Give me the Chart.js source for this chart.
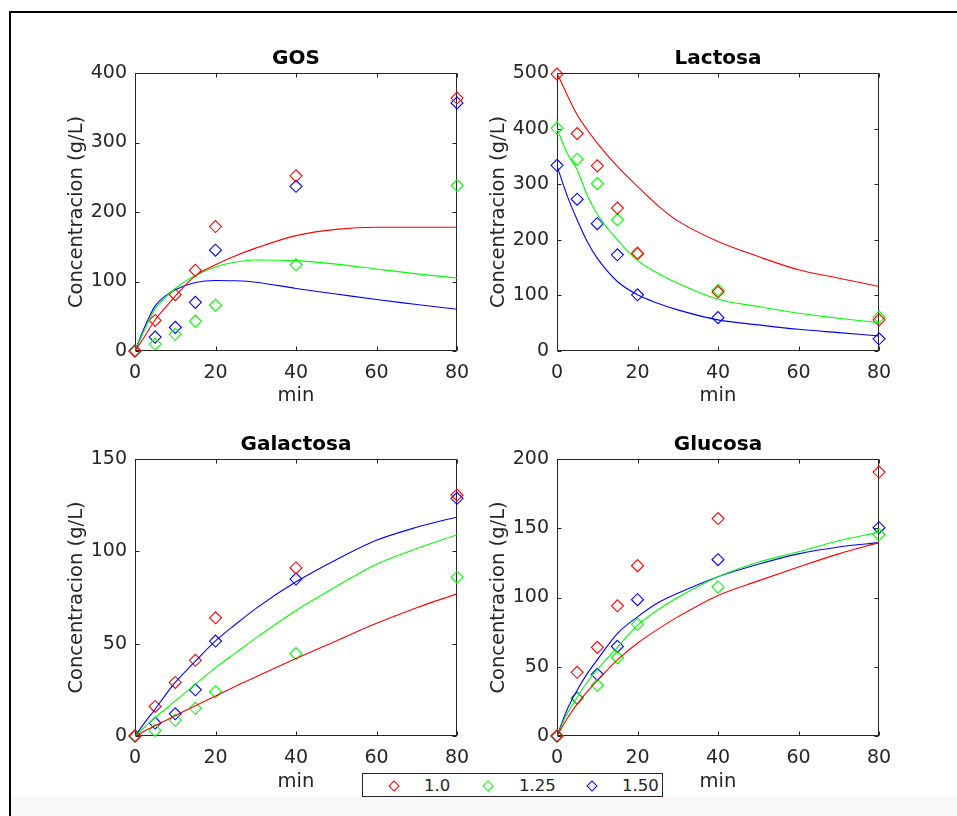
<!DOCTYPE html>
<html>
<head>
<meta charset="utf-8">
<script src="https://cdn.jsdelivr.net/npm/chart.js@4.4.1/dist/chart.umd.min.js"></script>
<style>
  html, body { margin: 0; padding: 0; background: #fff; }
  body { width: 957px; height: 816px; position: relative; overflow: hidden; font-family: "DejaVu Sans", sans-serif; }
  .frame { position: absolute; left: 9px; top: 11px; width: 980px; height: 840px; border-left: 2px solid #000; border-top: 2px solid #000; }
  .foot { position: absolute; left: 11px; top: 797px; right: 0; bottom: 0; background: #f8f8f8; }
  canvas { position: absolute; }
  #legend { position: absolute; left: 362px; top: 773px; width: 299px; height: 22px; border: 1px solid #262626; background: #fff; font-size: 16.5px; color: #262626; }
  #legend .mk { position: absolute; top: 8px; width: 6px; height: 6px; border: 1px solid; transform: rotate(45deg); }
  #legend .lb { position: absolute; top: 2px; }
</style>
</head>
<body>
<div class="frame"></div>
<div class="foot"></div>
<canvas id="gos" width="440" height="385" style="left:40px;top:30px"></canvas>
<canvas id="lac" width="440" height="385" style="left:462px;top:30px"></canvas>
<canvas id="gal" width="440" height="385" style="left:40px;top:416px"></canvas>
<canvas id="glu" width="440" height="385" style="left:462px;top:416px"></canvas>
<div id="legend">
  <span class="mk" style="left:27px;border-color:#ff0000"></span><span class="lb" style="left:61px">1.0</span>
  <span class="mk" style="left:121px;border-color:#00ff00"></span><span class="lb" style="left:156px">1.25</span>
  <span class="mk" style="left:225px;border-color:#0000ff"></span><span class="lb" style="left:259px">1.50</span>
</div>
<script>
// Series / categories
const seriesNames = ['1.0', '1.25', '1.50'];
const seriesColors = ['#ff0000', '#00ff00', '#0000ff'];

// sampling times (min)
const tMeas = [0, 5, 10, 15, 20, 40, 80];
const tFit = [0, 2.5, 5, 7.5, 10, 15, 20, 25, 30, 40, 50, 60, 70, 80];
const xTicks = [0, 20, 40, 60, 80];

// GOS
const gosMeas10 = [0, 44, 81, 116, 179, 252, 364];
const gosMeas125 = [0, 10, 24, 43, 66, 124, 238];
const gosMeas150 = [0, 20, 34, 70, 145, 237, 357];
const gosFit10 = [0, 22, 45, 62, 79, 108, 124, 137, 148, 166, 175, 178, 178, 178];
const gosFit125 = [0, 32, 61, 77, 90, 109, 121, 128, 131, 130, 125, 118, 111, 105];
const gosFit150 = [0, 36, 65, 79, 88, 98.5, 101.5, 101, 99, 90, 82, 74, 67, 60];

// Lactosa
const lacMeas10 = [498, 391, 333, 257, 176, 106, 56];
const lacMeas125 = [401, 345, 301, 236, 174, 109, 61];
const lacMeas150 = [334, 273, 229, 173, 101, 60, 22];
const lacFit10 = [500, 461, 425, 398, 374, 332, 296, 262, 234, 197, 170, 146, 131, 116];
const lacFit125 = [400, 356, 326, 280, 246, 200, 163, 140, 122, 93, 80, 68, 59, 51];
const lacFit150 = [333, 280, 236, 197, 167, 125, 101, 86, 74, 56, 47, 39, 33, 27];

// Galactosa
const galMeas10 = [0, 16, 29, 41, 64, 91, 130.5];
const galMeas125 = [0, 3, 8.5, 15, 24, 44.6, 86];
const galMeas150 = [0, 7, 12, 25, 51.4, 85, 128.7];
const galFit10 = [0, 2.8, 5.6, 8.3, 11, 16.4, 21.7, 27, 32, 42, 51.5, 61, 69.5, 77];
const galFit125 = [0, 5, 10, 14.5, 19, 28, 37, 45, 53, 68, 81, 93, 101.5, 109];
const galFit150 = [0, 7.5, 14.5, 22, 29, 40.5, 51.5, 60.5, 69, 83.5, 95.5, 106, 113, 118.6];

// Glucosa
const gluMeas10 = [0, 46, 64, 94, 123, 157, 190.6];
const gluMeas125 = [0, 27, 36.6, 56.6, 80.6, 107.6, 145.4];
const gluMeas150 = [0, 27.4, 44.5, 64.7, 98.4, 127.3, 150.4];
const gluFit10 = [0, 12.5, 23, 32, 40, 55, 67, 77, 86, 101.5, 112, 122, 131.5, 139.6];
const gluFit125 = [0, 16, 28, 39, 48, 64, 80, 91, 100, 115, 125.5, 133, 141, 147];
const gluFit150 = [0, 19, 33, 45, 55, 74, 86, 96, 103, 115, 124, 131.5, 136.5, 139.6];

function pts(xs, ys) {
    return xs.map((x, i) => ({ x: x, y: ys[i] }));
}

// box with inward tick marks, like the original axes
const axesBox = {
    id: 'axesBox',
    beforeDatasetsDraw(chart) {
        const { ctx, chartArea: a, scales } = chart;
        const L = Math.round(a.left) + 0.5, R = Math.round(a.right) - 0.5;
        const T = Math.round(a.top) + 0.5, B = Math.round(a.bottom) - 0.5;
        ctx.save();
        ctx.strokeStyle = '#262626';
        ctx.lineWidth = 1;
        ctx.strokeRect(L, T, R - L, B - T);
        ctx.beginPath();
        scales.x.ticks.forEach(t => {
            const px = Math.round(scales.x.getPixelForValue(t.value)) + 0.5;
            ctx.moveTo(px, B); ctx.lineTo(px, B - 4);
            ctx.moveTo(px, T); ctx.lineTo(px, T + 4);
        });
        scales.y.ticks.forEach(t => {
            const py = Math.round(scales.y.getPixelForValue(t.value)) + 0.5;
            ctx.moveTo(L, py); ctx.lineTo(L + 4, py);
            ctx.moveTo(R, py); ctx.lineTo(R - 4, py);
        });
        ctx.stroke();
        ctx.restore();
    }
};

function makePanel(id, title, yMax, yStep, meas, fits, xAxisH) {
    const datasets = [];
    fits.forEach((f, i) => {
        datasets.push({
            label: seriesNames[i] + ' fit',
            data: pts(tFit, f),
            showLine: true,
            borderColor: seriesColors[i],
            borderWidth: 1.1,
            pointRadius: 0,
            cubicInterpolationMode: 'monotone',
            fill: false
        });
    });
    meas.forEach((m, i) => {
        datasets.push({
            label: seriesNames[i],
            data: pts(tMeas, m),
            showLine: false,
            pointStyle: 'rectRot',
            pointRadius: 6,
            pointBorderWidth: 1.1,
            pointBorderColor: seriesColors[i],
            pointBackgroundColor: 'rgba(0,0,0,0)',
            clip: false
        });
    });

    const tickFont = { family: 'DejaVu Sans', size: 19 };
    const labelFont = { family: 'DejaVu Sans', size: 19.5 };
    new Chart(document.getElementById(id), {
        type: 'scatter',
        data: { datasets: datasets },
        options: {
            responsive: false,
            animation: false,
            devicePixelRatio: 1,
            layout: { padding: { top: 0, right: 23, left: 0, bottom: 0 } },
            plugins: {
                legend: { display: false },
                tooltip: { enabled: false },
                title: {
                    display: true,
                    fullSize: false,
                    text: title,
                    color: '#000',
                    font: { family: 'DejaVu Sans', size: 20, weight: 'bold' },
                    padding: { top: 17, bottom: 2 }
                }
            },
            scales: {
                x: {
                    type: 'linear',
                    min: 0, max: 80,
                    afterBuildTicks: s => { s.ticks = xTicks.map(v => ({ value: v })); },
                    ticks: { color: '#262626', font: tickFont, padding: 3 },
                    grid: { display: false },
                    border: { display: false },
                    title: { display: true, text: 'min', color: '#262626', font: labelFont, padding: { bottom: 7 } },
                    afterFit: s => { s.height = xAxisH; }
                },
                y: {
                    min: 0, max: yMax,
                    ticks: { stepSize: yStep, color: '#262626', font: tickFont, padding: 0 },
                    grid: { display: false },
                    border: { display: false },
                    title: { display: true, text: 'Concentracion (g/L)', color: '#262626', font: labelFont, padding: { top: 25 } },
                    afterFit: s => { s.width = 95; }
                }
            }
        },
        plugins: [axesBox]
    });
}

makePanel('gos', 'GOS', 400, 100, [gosMeas10, gosMeas125, gosMeas150], [gosFit10, gosFit125, gosFit150], 64);
makePanel('lac', 'Lactosa', 500, 100, [lacMeas10, lacMeas125, lacMeas150], [lacFit10, lacFit125, lacFit150], 64);
makePanel('gal', 'Galactosa', 150, 50, [galMeas10, galMeas125, galMeas150], [galFit10, galFit125, galFit150], 65);
makePanel('glu', 'Glucosa', 200, 50, [gluMeas10, gluMeas125, gluMeas150], [gluFit10, gluFit125, gluFit150], 65);
</script>
</body>
</html>
